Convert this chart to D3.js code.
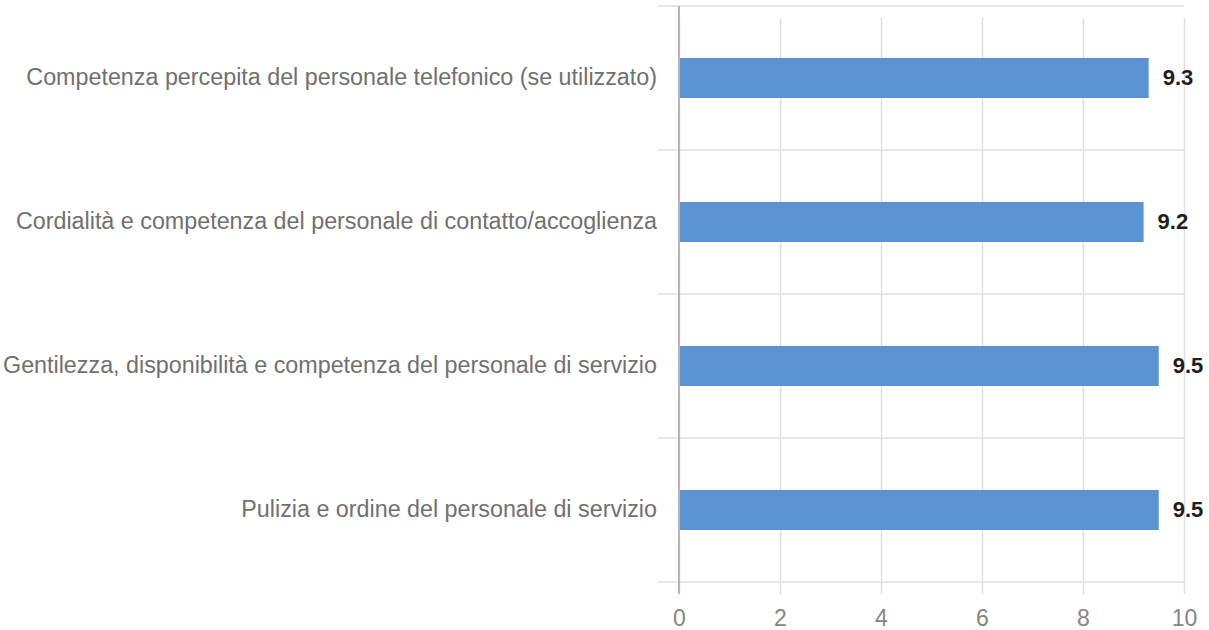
<!DOCTYPE html>
<html>
<head>
<meta charset="utf-8">
<script src="https://cdn.jsdelivr.net/npm/d3@7"></script>
<style>
  body { margin: 0; background: #fff; }
  svg { display: block; }
</style>
</head>
<body>
<svg class="s"></svg>
<script>
var categories = [
  'Competenza percepita del personale telefonico (se utilizzato)',
  'Cordialità e competenza del personale di contatto/accoglienza',
  'Gentilezza, disponibilità e competenza del personale di servizio',
  'Pulizia e ordine del personale di servizio'
];
var values = [9.3, 9.2, 9.5, 9.5];
var xTicks = [0, 2, 4, 6, 8, 10];

var w = 1209;
var h = 630;
var margin = {top: 6, right: 25, bottom: 48, left: 679};
var font = '"Liberation Sans", Arial, Helvetica, sans-serif';

var svg = d3.select('.s')
            .attr('width', w)
            .attr('height', h);

var x = d3.scaleLinear()
          .domain([0, 10])
          .range([margin.left, w - margin.right]);

var y = d3.scaleBand()
          .domain(categories)
          .range([margin.top, h - margin.bottom]);

// category separators, run a bit left of the axis
svg.append('g')
   .selectAll('line')
   .data(d3.range(categories.length + 1))
   .enter()
   .append('line')
   .attr('x1', margin.left - 21)
   .attr('x2', x(10))
   .attr('y1', function(i){ return y.range()[0] + i * y.step(); })
   .attr('y2', function(i){ return y.range()[0] + i * y.step(); })
   .attr('stroke', '#dedede')
   .attr('stroke-width', 1.5);

// vertical grid + x labels
var xAxis = svg.append('g')
               .attr('transform', 'translate(0,' + (h - margin.bottom) + ')')
               .call(d3.axisBottom(x)
                       .tickValues(xTicks)
                       .tickSize(-(h - margin.bottom - margin.top))
                       .tickSizeOuter(0)
                       .tickPadding(28));
xAxis.select('.domain').remove();
xAxis.selectAll('.tick line')
     .attr('stroke', '#e0e0e0')
     .attr('stroke-width', 1.5)
     .attr('y2', 12 - (h - margin.bottom - margin.top))
     .attr('y1', 12);
xAxis.selectAll('.tick text')
     .attr('fill', '#858585')
     .style('font-family', font)
     .style('font-size', '23px');

// y axis line
svg.append('line')
   .attr('x1', x(0))
   .attr('x2', x(0))
   .attr('y1', margin.top)
   .attr('y2', h - margin.bottom + 12)
   .attr('stroke', '#b5b5b5')
   .attr('stroke-width', 2);

// bars
var barH = 40;
svg.append('g')
   .selectAll('rect')
   .data(values)
   .enter()
   .append('rect')
   .attr('x', x(0) + 1)
   .attr('y', function(d, i){ return y(categories[i]) + y.bandwidth() / 2 - barH / 2; })
   .attr('width', function(d){ return x(d) - x(0) - 1; })
   .attr('height', barH)
   .attr('fill', '#5b92d2');

// value labels
svg.append('g')
   .selectAll('text')
   .data(values)
   .enter()
   .append('text')
   .attr('x', function(d){ return x(d) + 14; })
   .attr('y', function(d, i){ return y(categories[i]) + y.bandwidth() / 2; })
   .attr('dy', '0.32em')
   .attr('fill', '#1e1e1e')
   .style('font-family', font)
   .style('font-weight', 'bold')
   .style('font-size', '22px')
   .text(function(d){ return d.toFixed(1); });

// category labels
svg.append('g')
   .selectAll('text')
   .data(categories)
   .enter()
   .append('text')
   .attr('x', margin.left - 22)
   .attr('y', function(d){ return y(d) + y.bandwidth() / 2; })
   .attr('dy', '0.28em')
   .attr('text-anchor', 'end')
   .attr('fill', '#707070')
   .style('font-family', font)
   .style('font-size', '23.3px')
   .text(function(d){ return d; });
</script>
</body>
</html>
